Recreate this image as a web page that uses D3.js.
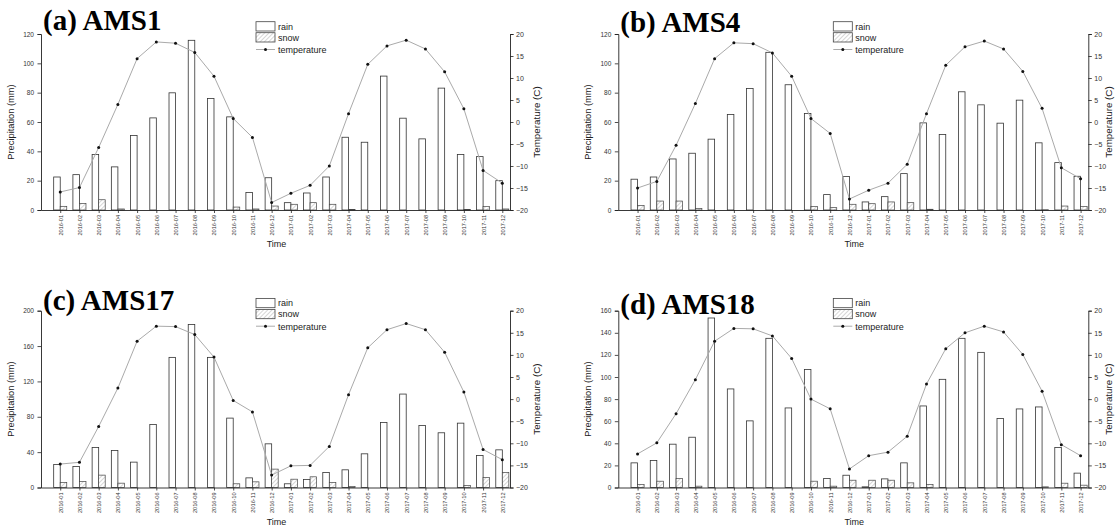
<!DOCTYPE html>
<html><head><meta charset="utf-8">
<script src="https://cdn.jsdelivr.net/npm/d3@7"></script>
<style>body{margin:0;background:#fff}svg{display:block}</style>
</head><body>
<svg id="c" width="1115" height="529"></svg>
<script>
const months = ["2016-01","2016-02","2016-03","2016-04","2016-05","2016-06","2016-07","2016-08","2016-09","2016-10","2016-11","2016-12",
  "2017-01","2017-02","2017-03","2017-04","2017-05","2017-06","2017-07","2017-08","2017-09","2017-10","2017-11","2017-12"];

const rainA = [22.5,24.1,37.8,29.4,50.8,62.8,79.9,115.7,76.0,63.5,12.0,22.0, 5.0,11.6,22.5,49.6,46.2,91.3,62.6,48.5,83.1,37.8,36.4,20.0];
const snowA = [2.5,4.5,7.0,0.7,0,0,0,0,0,2.0,0.7,2.7, 3.9,5.0,3.9,0.3,0,0,0,0,0,0.3,2.3,0.7];
const tempA = [-15.9,-14.9,-5.8,4.0,14.4,18.2,17.9,15.8,10.4,0.8,-3.5,-18.3, -16.2,-14.4,-10.0,1.9,13.1,17.3,18.6,16.6,11.4,3.0,-11.0,-13.9];

const rainB = [21.0,22.5,34.8,38.7,48.3,65.1,82.9,107.5,85.4,65.8,10.5,22.8, 5.5,9.1,24.8,59.4,51.5,80.6,71.7,59.2,74.9,45.8,32.3,23.0];
const snowB = [3.0,6.1,6.1,1.1,0,0,0,0,0,2.3,1.6,3.9, 4.3,5.5,5.0,0.5,0,0,0,0,0,0.2,2.7,2.3];
const tempB = [-15.0,-13.5,-5.3,4.2,14.4,18.0,17.8,15.7,10.4,0.8,-2.6,-17.5, -15.5,-13.9,-9.6,1.9,12.9,17.1,18.4,16.6,11.5,3.1,-10.4,-12.9];

const rainC = [26.0,23.8,45.3,41.9,28.7,71.3,147.2,184.5,147.2,78.5,10.9,49.4, 4.2,9.1,17.0,20.0,38.1,73.6,105.7,70.2,61.9,72.8,36.2,42.6];
const snowC = [5.7,6.8,14.0,4.9,0,0,0,0,0,4.2,6.4,20.8, 9.4,12.1,5.7,1.1,0,0,0,0,0,2.3,11.3,17.0];
const tempC = [-14.7,-14.3,-6.2,2.5,13.1,16.5,16.4,14.6,9.5,-0.3,-2.9,-17.2, -15.1,-15.0,-10.7,1.0,11.6,15.7,17.1,15.7,10.6,1.6,-11.4,-13.7];

const rainD = [22.3,24.4,39.2,45.5,153.4,89.2,60.3,135.0,72.0,106.7,8.1,11.1, 0.6,7.8,22.3,73.8,97.9,135.0,122.3,62.4,71.1,72.9,36.2,13.0];
const snowD = [2.7,5.7,8.1,1.2,0,0,0,0,0,5.7,1.2,6.6, 6.6,6.6,4.2,2.7,0,0,0,0,0,0.6,3.9,2.1];
const tempD = [-12.4,-9.9,-3.3,4.4,13.1,16.0,15.9,14.3,9.2,0.0,-2.2,-15.8, -12.8,-12.0,-8.4,3.4,11.4,15.0,16.5,15.2,10.1,1.8,-10.3,-12.8];

const precipTicksAB = [0,20,40,60,80,100,120];
const precipTicksC = [0,40,80,120,160,200];
const precipTicksD = [0,20,40,60,80,100,120,140,160];
const tempTicks = [-20,-15,-10,-5,0,5,10,15,20];
const titles = ["(a) AMS1","(b) AMS4","(c) AMS17","(d) AMS18"];
const legendLabels = ["rain","snow","temperature"];

const panels = [
  {title:titles[0], rain:rainA, snow:snowA, temp:tempA, ticks:precipTicksAB, L:41, R:510, T:34, B:210, tb:30},
  {title:titles[1], rain:rainB, snow:snowB, temp:tempB, ticks:precipTicksAB, L:618.3, R:1088.3, T:34, B:210, tb:31.5},
  {title:titles[2], rain:rainC, snow:snowC, temp:tempC, ticks:precipTicksC, L:41, R:510, T:310.7, B:487.5, tb:310},
  {title:titles[3], rain:rainD, snow:snowD, temp:tempD, ticks:precipTicksD, L:618.3, R:1088.3, T:310.7, B:487.5, tb:314}
];

const svg = d3.select("#c");
const defs = svg.append("defs");
const pat = defs.append("pattern").attr("id","hatch").attr("patternUnits","userSpaceOnUse")
  .attr("width",3).attr("height",3).attr("patternTransform","rotate(45)");
pat.append("rect").attr("width",3).attr("height",3).attr("fill","#fff");
pat.append("line").attr("x1",0).attr("y1",0).attr("x2",0).attr("y2",3).attr("stroke","#999").attr("stroke-width",0.8);

const sans = "Liberation Sans, Arial, sans-serif";
const bw = 0.34;

panels.forEach(p => {
  const g = svg.append("g");
  const x = d3.scaleLinear().domain([0, 24.4]).range([p.L, p.R]);
  const yP = d3.scaleLinear().domain([0, d3.max(p.ticks)]).range([p.B, p.T]);
  const yT = d3.scaleLinear().domain([-20, 20]).range([p.B, p.T]);
  const idx = d3.range(months.length);

  // bars
  g.selectAll(".rain").data(idx).join("rect")
    .attr("x", i => x(i + 1 - bw)).attr("width", i => x(i + 1) - x(i + 1 - bw))
    .attr("y", i => yP(p.rain[i])).attr("height", i => yP(0) - yP(p.rain[i]))
    .attr("fill","#fff").attr("stroke","#333").attr("stroke-width",0.8);
  g.selectAll(".snow").data(idx.filter(i => p.snow[i] > 0)).join("rect")
    .attr("x", i => x(i + 1)).attr("width", i => x(i + 1 + bw) - x(i + 1))
    .attr("y", i => yP(p.snow[i])).attr("height", i => yP(0) - yP(p.snow[i]))
    .attr("fill","url(#hatch)").attr("stroke","#444").attr("stroke-width",0.7);

  // temperature line
  const line = d3.line().x(i => x(i + 1)).y(i => yT(p.temp[i]));
  g.append("path").datum(idx).attr("d", line).attr("fill","none").attr("stroke","#aaa").attr("stroke-width",1);
  g.selectAll(".dot").data(idx).join("circle")
    .attr("cx", i => x(i + 1)).attr("cy", i => yT(p.temp[i])).attr("r",1.5).attr("fill","#111");

  // axes
  const axL = d3.axisLeft(yP).tickValues(p.ticks).tickSize(3.5).tickPadding(3.5);
  const gl = g.append("g").attr("transform",`translate(${p.L},0)`).call(axL);
  const axR = d3.axisRight(yT).tickValues(tempTicks).tickSize(3.5).tickPadding(2.5);
  const gr = g.append("g").attr("transform",`translate(${p.R},0)`).call(axR);
  const axB = d3.axisBottom(x).tickValues(d3.range(1,25)).tickFormat(d => months[d-1]).tickSize(3).tickSizeOuter(0);
  const gb = g.append("g").attr("transform",`translate(0,${p.B})`).call(axB);
  [gl,gr,gb].forEach(a => {
    a.select(".domain").attr("stroke","#222").attr("stroke-width",0.9);
    a.selectAll(".tick line").attr("stroke","#222").attr("stroke-width",0.8);
    a.selectAll("text").attr("font-family",sans).attr("fill","#333");
  });
  gl.selectAll("text").attr("font-size",6.5);
  gr.selectAll("text").attr("font-size",7);
  gb.selectAll("text").attr("font-size",5.6)
    .attr("transform","rotate(-90)").attr("text-anchor","end")
    .attr("x",-5).attr("y",0).attr("dy","0.35em");

  // axis titles
  g.append("text").attr("transform",`translate(${p.L-27},${(p.T+p.B)/2}) rotate(-90)`)
    .attr("text-anchor","middle").attr("font-family",sans).attr("font-size",9.3).attr("fill","#222")
    .text("Precipitation (mm)");
  g.append("text").attr("transform",`translate(${Math.min(p.R+30, 1112)},${(p.T+p.B)/2}) rotate(-90)`)
    .attr("text-anchor","middle").attr("font-family",sans).attr("font-size",9.8).attr("fill","#222")
    .text("Temperature (C)");
  g.append("text").attr("x",(p.L+p.R)/2 + 1).attr("y",p.B+37)
    .attr("text-anchor","middle").attr("font-family",sans).attr("font-size",9).attr("fill","#222")
    .text("Time");

  // title
  g.append("text").attr("x",p.L+2).attr("y",p.tb)
    .attr("font-family","Liberation Serif, Times New Roman, serif").attr("font-weight","bold")
    .attr("font-size",29).attr("fill","#000").text(p.title);

  // legend
  const lx = p.L + 215, ly = p.T;
  g.append("rect").attr("x",lx).attr("y",ly-12.3).attr("width",19).attr("height",9.3)
    .attr("fill","#fff").attr("stroke","#444").attr("stroke-width",0.8);
  g.append("rect").attr("x",lx).attr("y",ly-1.3).attr("width",19).attr("height",9.3)
    .attr("fill","url(#hatch)").attr("stroke","#444").attr("stroke-width",0.8);
  g.append("line").attr("x1",lx).attr("x2",lx+19).attr("y1",ly+15.5).attr("y2",ly+15.5)
    .attr("stroke","#aaa").attr("stroke-width",1);
  g.append("circle").attr("cx",lx+9.5).attr("cy",ly+15.5).attr("r",1.5).attr("fill","#111");
  legendLabels.forEach((t,k) => {
    g.append("text").attr("x",lx+22).attr("y",[ly-7.5, ly+3.6, ly+15.8][k]).attr("dy","0.35em")
      .attr("font-family",sans).attr("font-size",9).attr("fill","#222").text(t);
  });
});
</script>
</body></html>
